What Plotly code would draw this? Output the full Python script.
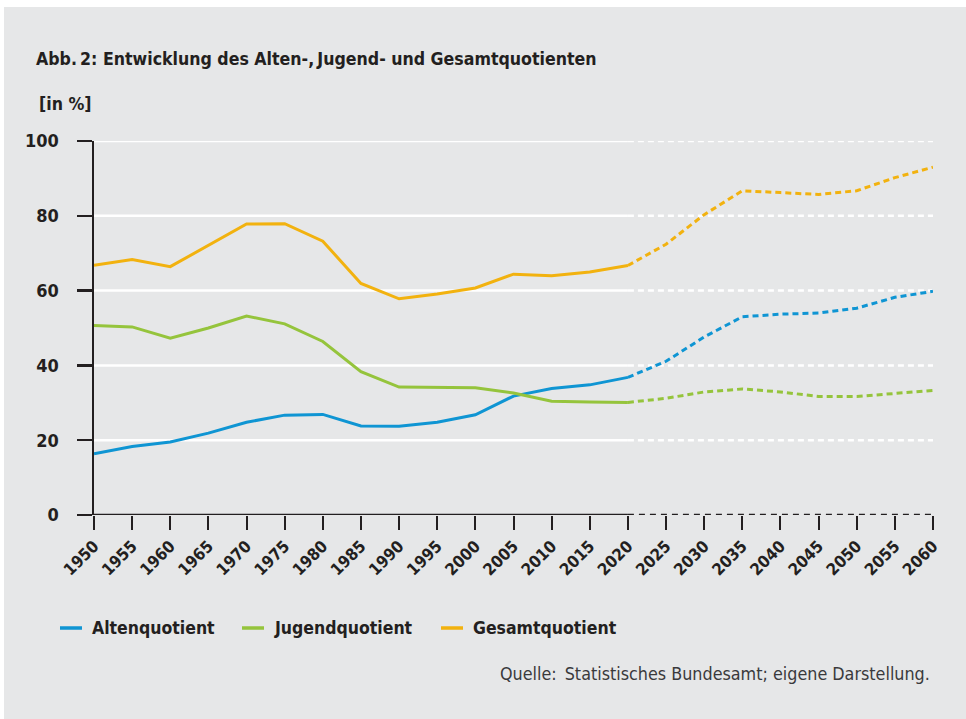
import plotly.graph_objects as go

# ---------------- data ----------------
years_hist = [1950, 1955, 1960, 1965, 1970, 1975, 1980, 1985, 1990, 1995, 2000, 2005, 2010, 2015, 2020]
years_proj = [2020, 2025, 2030, 2035, 2040, 2045, 2050, 2055, 2060]

alten_hist = [16.4, 18.3, 19.5, 21.9, 24.8, 26.7, 26.9, 23.8, 23.7, 24.8, 26.8, 31.8, 33.8, 34.8, 36.8]
alten_proj = [36.8, 41.1, 47.6, 53.0, 53.7, 54.0, 55.3, 58.2, 59.8]

jugend_hist = [50.7, 50.3, 47.3, 50.0, 53.2, 51.1, 46.4, 38.3, 34.2, 34.2, 34.0, 32.6, 30.4, 30.2, 30.1]
jugend_proj = [30.1, 31.2, 32.9, 33.7, 32.9, 31.7, 31.7, 32.4, 33.3]

gesamt_hist = [66.8, 68.3, 66.4, 72.0, 77.8, 77.9, 73.2, 61.9, 57.8, 59.1, 60.7, 64.4, 64.0, 65.0, 66.7]
gesamt_proj = [66.7, 72.4, 80.3, 86.7, 86.2, 85.7, 86.7, 90.2, 93.0]

series_names = ["Altenquotient", "Jugendquotient", "Gesamtquotient"]
series_colors = ["#0f95d3", "#95c43c", "#f2b20f"]
series_hist = [alten_hist, jugend_hist, gesamt_hist]
series_proj = [alten_proj, jugend_proj, gesamt_proj]

y_ticks = [0, 20, 40, 60, 80, 100]
x_ticks = list(range(1950, 2061, 5))

title_text = "Abb.\u20092: Entwicklung des Alten-,\u2009Jugend- und Gesamtquotienten"
unit_text = "[in %]"
source_text = "Quelle:\u2002Statistisches Bundesamt; eigene Darstellung."

# ---------------- style ----------------
BG = "#e6e7e8"
INK = "#231f20"
FONT = "DejaVu Sans Condensed, DejaVu Sans, sans-serif"

W, H = 966, 719
ML, MT = 94, 141
PW, PH = 839, 374
MR = W - ML - PW
MB = H - MT - PH


def px_x(px):
    return (px - ML) / PW


def px_y(py):
    return (MT + PH - py) / PH


fig = go.Figure()

for name, col, yh, yp in zip(series_names, series_colors, series_hist, series_proj):
    fig.add_trace(go.Scatter(x=years_hist, y=yh, mode="lines", name=name,
                             line=dict(color=col, width=3), showlegend=False,
                             cliponaxis=False, hoverinfo="skip"))
    fig.add_trace(go.Scatter(x=years_proj, y=yp, mode="lines", name=name,
                             line=dict(color=col, width=3, dash="6px,4px"),
                             showlegend=False, cliponaxis=False, hoverinfo="skip"))

shapes = []
# thin white margin at top and left of the grey panel
shapes.append(dict(type="rect", xref="paper", yref="paper",
                   x0=px_x(-5), x1=px_x(W + 5), y0=px_y(7), y1=px_y(-5),
                   fillcolor="white", line=dict(width=0), layer="below"))
shapes.append(dict(type="rect", xref="paper", yref="paper",
                   x0=px_x(-5), x1=px_x(4), y0=px_y(H + 5), y1=px_y(-5),
                   fillcolor="white", line=dict(width=0), layer="below"))
split = years_hist[-1]
for yv in y_ticks[1:]:
    shapes.append(dict(type="line", xref="x", yref="y", x0=years_hist[0], x1=split,
                       y0=yv, y1=yv, line=dict(color="white", width=2.5), layer="below"))
    shapes.append(dict(type="line", xref="x", yref="y", x0=split, x1=years_proj[-1],
                       y0=yv, y1=yv, line=dict(color="white", width=2.5, dash="6px,4px"),
                       layer="below"))
shapes.append(dict(type="line", xref="x", yref="y", x0=years_hist[0], x1=split,
                   y0=0, y1=0, line=dict(color=INK, width=2.5), layer="above"))
shapes.append(dict(type="line", xref="x", yref="y", x0=split, x1=years_proj[-1],
                   y0=0, y1=0, line=dict(color=INK, width=2.5, dash="6px,5px"), layer="above"))

legend_y = px_y(628)
legend_line_x = [(60, 82), (242, 264), (441, 463)]
legend_text_x = [90, 272, 471]
annotations = []
for name, col, (a, b), tx in zip(series_names, series_colors, legend_line_x, legend_text_x):
    shapes.append(dict(type="line", xref="paper", yref="paper", x0=px_x(a), x1=px_x(b),
                       y0=legend_y, y1=legend_y, line=dict(color=col, width=3.5)))
    annotations.append(dict(xref="paper", yref="paper", x=px_x(tx), y=legend_y,
                            xanchor="left", yanchor="middle", showarrow=False, text=name,
                            font=dict(family=FONT, size=17.5, color=INK, weight="bold")))

annotations.append(dict(xref="paper", yref="paper", x=px_x(34), y=px_y(59),
                        xanchor="left", yanchor="middle", showarrow=False, text=title_text,
                        font=dict(family=FONT, size=17.6, color=INK, weight="bold")))
annotations.append(dict(xref="paper", yref="paper", x=px_x(37), y=px_y(104),
                        xanchor="left", yanchor="middle", showarrow=False, text=unit_text,
                        font=dict(family=FONT, size=17.6, color=INK, weight="bold")))
annotations.append(dict(xref="paper", yref="paper", x=px_x(932), y=px_y(673),
                        xanchor="right", yanchor="middle", showarrow=False, text=source_text,
                        font=dict(family=FONT, size=17.8, color="#3a3a3c")))

fig.update_layout(
    width=W, height=H,
    margin=dict(l=ML, r=MR, t=MT, b=MB, pad=0),
    paper_bgcolor=BG,
    plot_bgcolor="rgba(0,0,0,0)",
    showlegend=False,
    hovermode=False,
    shapes=shapes,
    annotations=annotations,
    xaxis=dict(range=[years_hist[0], years_proj[-1]], tickvals=x_ticks,
               ticktext=[str(v) for v in x_ticks], tickangle=-45,
               ticks="outside", ticklen=14, tickwidth=2, tickcolor=INK,
               showgrid=False, zeroline=False, showline=False,
               tickfont=dict(family=FONT, size=16.5, color=INK, weight="bold")),
    yaxis=dict(range=[0, 100], tickvals=y_ticks, ticks="outside", ticklen=15,
               tickwidth=2.5, tickcolor=INK, showgrid=False, zeroline=False,
               showline=True, linewidth=2.5, linecolor=INK, ticklabelstandoff=14,
               tickfont=dict(family=FONT, size=18, color=INK, weight="bold")),
)

fig.write_html(
    "out.html",
    config={"displayModeBar": False, "staticPlot": True},
    post_script=("document.body.style.margin='0';"
                 "document.body.style.overflow='hidden';"
                 "document.documentElement.style.background='" + BG + "';"
                 "document.body.style.background='" + BG + "';"),
)
